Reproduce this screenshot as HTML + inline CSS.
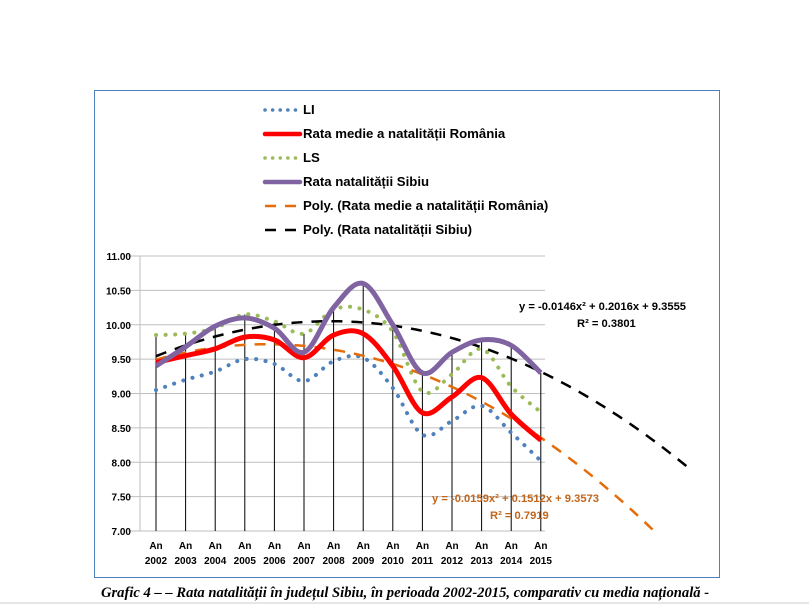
<!DOCTYPE html><html><head><meta charset="utf-8"><style>
body{margin:0;background:#fff;width:809px;height:604px;overflow:hidden;font-family:"Liberation Sans",sans-serif}
</style></head><body>
<svg id="s" width="809" height="604" xmlns="http://www.w3.org/2000/svg" font-family="Liberation Sans, sans-serif">
<rect x="94.5" y="90.5" width="625" height="487" fill="#fff" stroke="#4f81bd" stroke-width="1"/>
<line x1="0" y1="603" x2="809" y2="603" stroke="#ccc"/>
<text x="405" y="597" text-anchor="middle" font-family="Liberation Serif, serif" font-weight="bold" font-style="italic" font-size="14.6">Grafic 4 –  – Rata natalității în județul Sibiu, în perioada 2002-2015, comparativ cu media națională -</text>
<g font-size="13.2" font-weight="bold">
<line x1="265" y1="110" x2="300" y2="110" stroke="#4f81bd" stroke-width="3.5" stroke-dasharray="0.1 7.5" stroke-linecap="round"/><text x="303" y="114">LI</text>
<line x1="265" y1="134" x2="300" y2="134" stroke="#ff0000" stroke-width="4.5" stroke-linecap="round"/><text x="303" y="138">Rata medie a natalității România</text>
<line x1="265" y1="158" x2="300" y2="158" stroke="#9bbb59" stroke-width="3.5" stroke-dasharray="0.1 7.5" stroke-linecap="round"/><text x="303" y="162">LS</text>
<line x1="265" y1="182" x2="300" y2="182" stroke="#8064a2" stroke-width="4.5" stroke-linecap="round"/><text x="303" y="186">Rata natalității Sibiu</text>
<line x1="265" y1="206" x2="300" y2="206" stroke="#e46c0a" stroke-width="2.5" stroke-dasharray="11 9"/><text x="303" y="210">Poly. (Rata medie a natalității România)</text>
<line x1="265" y1="230" x2="300" y2="230" stroke="#000" stroke-width="2.5" stroke-dasharray="11 9"/><text x="303" y="234">Poly. (Rata natalității Sibiu)</text>
</g>
<g id="g"></g>
</svg>
<script>
var g=document.getElementById('g'),NS='http://www.w3.org/2000/svg';
function Y(v){return 256+(11-v)*68.75}function X(i){return 156+i*29.6}
function el(t,a,txt){var e=document.createElementNS(NS,t);for(var k in a)e.setAttribute(k,a[k]);if(txt)e.textContent=txt;g.appendChild(e);return e}
for(var i=0;i<9;i++){var v=7+i*0.5;el('line',{x1:128,x2:545,y1:Y(v),y2:Y(v),stroke:'#bfbfbf','stroke-width':1});
el('text',{x:131,y:Y(v)+4,'text-anchor':'end','font-size':'10','font-weight':'bold'},v.toFixed(2));}
el('line',{x1:140,x2:140,y1:Y(11),y2:Y(7),stroke:'#bfbfbf'});
var S=[9.40,9.68,9.98,10.10,9.95,9.60,10.25,10.60,10.00,9.30,9.60,9.78,9.70,9.30],
R=[9.45,9.55,9.65,9.82,9.78,9.52,9.85,9.87,9.40,8.72,8.95,9.23,8.70,8.32],
L=[9.05,9.20,9.32,9.50,9.43,9.18,9.47,9.52,9.08,8.40,8.60,8.82,8.43,8.02],
U=[9.85,9.87,9.95,10.15,10.05,9.87,10.22,10.22,9.90,9.03,9.28,9.65,9.10,8.73];
for(var i=0;i<14;i++){var m=Math.max(S[i],R[i],L[i],U[i]);el('line',{x1:X(i),x2:X(i),y1:Y(7),y2:Y(m),stroke:'#000','stroke-width':1});
el('text',{x:X(i),y:549,'text-anchor':'middle','font-size':'10','font-weight':'bold'},'An');
el('text',{x:X(i),y:564,'text-anchor':'middle','font-size':'10','font-weight':'bold'},String(2002+i));}
function cr(a){var p=a.map(function(v,i){return[X(i),Y(v)]}),d='M'+p[0];for(var i=0;i<p.length-1;i++){var p0=p[i-1]||p[i],p1=p[i],p2=p[i+1],p3=p[i+2]||p2;
d+='C'+(p1[0]+(p2[0]-p0[0])/6)+','+(p1[1]+(p2[1]-p0[1])/6)+' '+(p2[0]-(p3[0]-p1[0])/6)+','+(p2[1]-(p3[1]-p1[1])/6)+' '+p2;}return d}
el('path',{d:cr(L),fill:'none',stroke:'#4f81bd','stroke-width':4,'stroke-dasharray':'0.1 9.5','stroke-linecap':'round'});
el('path',{d:cr(U),fill:'none',stroke:'#9bbb59','stroke-width':4,'stroke-dasharray':'0.1 9.5','stroke-linecap':'round'});
function poly(a,b,c,xe){var d='';for(var x=1;x<=xe;x+=0.1){var v=a*x*x+b*x+c;if(v<7)break;d+=(d?'L':'M')+X(x-1)+','+Y(v);}return d}
el('path',{d:poly(-0.0159,0.1512,9.3573,18),fill:'none',stroke:'#e46c0a','stroke-width':2.5,'stroke-dasharray':'11 9'});
el('path',{d:poly(-0.0146,0.2016,9.3555,19.2),fill:'none',stroke:'#000','stroke-width':2.5,'stroke-dasharray':'11 9'});
el('path',{d:cr(R),fill:'none',stroke:'#ff0000','stroke-width':5,'stroke-linejoin':'round'});
el('path',{d:cr(S),fill:'none',stroke:'#8064a2','stroke-width':5,'stroke-linejoin':'round'});
el('text',{x:519,y:310,'font-size':'11.2','font-weight':'bold'},'y = -0.0146x² + 0.2016x + 9.3555');
el('text',{x:577,y:327,'font-size':'11.2','font-weight':'bold'},'R² = 0.3801');
el('text',{x:432,y:502,'font-size':'11.2','font-weight':'bold',fill:'#c0651c'},'y = -0.0159x² + 0.1512x + 9.3573');
el('text',{x:490,y:519,'font-size':'11.2','font-weight':'bold',fill:'#c0651c'},'R² = 0.7919');
</script>
</body></html>
